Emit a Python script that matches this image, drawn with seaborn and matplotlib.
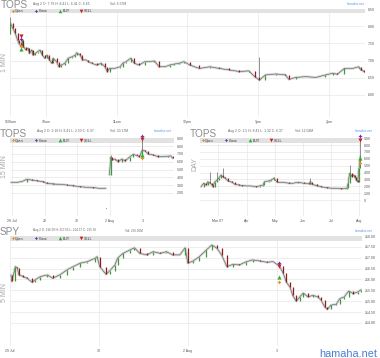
import numpy as np
import pandas as pd
import matplotlib
matplotlib.use("Agg")
import matplotlib.pyplot as plt
import seaborn as sns
from matplotlib.patches import Rectangle
from matplotlib.lines import Line2D

sns.set_theme(style="white")
plt.rcParams['font.family'] = ['Liberation Sans', 'DejaVu Sans']

# ---------------- data ----------------
# TOPS 1 MIN (minutes after 9:30am, close)
tops1_min = [0, 2, 4, 6, 7, 9, 10, 11, 13, 15, 16, 18, 19, 21, 23, 25, 27, 29, 31, 33,
             35, 36, 39, 41, 43, 46, 49, 52, 55, 56, 59, 61, 64, 66, 69, 73, 77, 80, 82, 84,
             88, 93, 95, 98, 102, 105, 109, 114, 118, 122, 126, 131, 135, 139, 143, 147, 152, 160, 169, 177,
             185, 194, 202, 207, 211, 216, 225, 233, 236, 242, 250, 259, 267, 273, 277, 283, 290, 295, 297, 300]
tops1_close = [8.09, 7.94, 7.80, 7.60, 7.51, 7.41, 7.60, 7.41, 7.31, 7.36, 7.21, 7.31, 7.16, 7.21, 7.26, 7.31, 7.16, 7.07, 7.16, 7.02,
               6.92, 7.07, 6.97, 6.82, 6.87, 6.92, 7.07, 7.11, 7.16, 7.23, 7.16, 7.02, 7.02, 6.97, 6.92, 6.87, 6.92, 6.82, 6.68, 6.77,
               6.77, 6.82, 6.92, 6.97, 7.07, 6.92, 6.87, 6.97, 6.97, 6.99, 6.82, 6.82, 6.87, 6.90, 6.92, 6.97, 6.87, 6.77, 6.82, 6.77,
               6.73, 6.68, 6.70, 6.53, 6.43, 6.58, 6.61, 6.58, 6.45, 6.51, 6.53, 6.51, 6.58, 6.63, 6.60, 6.77, 6.77, 6.82, 6.73, 6.68]
tops1_open = 7.79
tops1_wick_min = [0, 211]
tops1_wick_high = [8.28, 7.11]
tops1_trade_min = 9
tops1_trade = {'open': 7.43, 'close': 7.62, 'buy': 7.33, 'sell': 7.73}
tops1_xticks = [0, 30, 90, 150, 210, 270]
tops1_xlabels = ['9:30am', '10am', '11am', '12pm', '1pm', '2pm']
tops1_yticks = [6.0, 6.5, 7.0, 7.5, 8.0, 8.5]

# TOPS 15 MIN (days from 28 Jul), two sessions separated by a gap
tops15_d1 = [-0.03, 0.14, 0.30, 0.45, 0.60, 0.76, 0.96, 1.06, 1.27, 1.47, 1.68, 1.88, 2.09, 2.29, 2.49, 2.70, 2.88]
tops15_p1 = [3.36, 3.36, 3.44, 3.74, 3.65, 3.56, 3.44, 3.23, 3.14, 3.10, 3.01, 2.92, 2.79, 2.72, 2.67, 2.59, 2.59]
tops15_d2 = [2.99, 3.03, 3.06, 3.16, 3.26, 3.37, 3.47, 3.62, 3.72, 3.82, 3.91, 4.00, 4.08, 4.18, 4.33, 4.49, 4.64, 4.79, 4.87, 4.93]
tops15_p2 = [4.30, 6.60, 6.22, 6.35, 6.00, 6.35, 6.10, 6.64, 6.95, 6.80, 6.64, 7.50, 7.37, 7.00, 6.86, 6.64, 6.64, 6.70, 6.75, 6.44]
tops15_wick_day = [3.03, 4.00]
tops15_wick_high = [6.90, 9.20]
tops15_stray_d = [2.88]
tops15_stray_p = [0.06]
tops15_trade_day = 4.0
tops15_trade = {'open': 6.44, 'close': 9.29, 'buy': 6.86, 'sell': 8.91}
tops15_xticks = [0, 1, 2, 3, 4]
tops15_xlabels = ['28 Jul', '29', '30', '2 Aug', '3']
tops15_yticks = [2, 3, 4, 5, 6, 7, 8, 9]

# TOPS DAY (trading-day index, close)
day_idx = [0, 2, 4, 5, 7, 8, 9, 10, 12, 13, 15, 16, 18, 20, 23, 25, 28, 30, 34, 37,
           41, 44, 46, 47, 50, 52, 54, 56, 57, 61, 65, 68, 72, 76, 80, 81, 82, 86, 89, 93,
           97, 100, 104, 108, 109, 110, 112, 113, 114, 115, 116, 117, 118]
day_close = [1.94, 2.44, 2.19, 2.67, 2.44, 2.19, 1.94, 2.59, 2.92, 3.17, 3.65, 3.40, 3.17, 2.78, 2.59, 2.29, 2.19, 2.09, 2.05, 2.05,
             1.94, 2.09, 2.19, 2.67, 2.78, 2.92, 3.17, 2.67, 2.59, 2.59, 2.44, 2.44, 2.59, 2.44, 2.38, 2.67, 2.29, 2.09, 1.94, 1.80,
             1.71, 1.71, 1.65, 1.71, 2.44, 3.90, 3.40, 3.65, 3.40, 2.92, 2.67, 4.60, 6.37]
day_wick_idx = [7, 12, 16, 54, 81, 110, 118]
day_wick_high = [4.10, 4.10, 4.60, 3.40, 3.20, 5.10, 8.90]
day_trade_idx = 118
day_trade = {'open': 5.44, 'close': 9.33, 'buy': 6.08, 'sell': 8.75}
day_xticks = [12.6, 34.1, 54.8, 75.6, 96.3, 117.0]
day_xlabels = ['Mar 07', 'Apr', 'May', 'Jun', 'Jul', 'Aug']
day_yticks = [0, 1, 2, 3, 4, 5, 6, 7, 8, 9]

# SPY 5 MIN (days from 29 Jul, close)
spy_d = [0.01, 0.02, 0.06, 0.08, 0.10, 0.15, 0.19, 0.25, 0.28, 0.34, 0.42, 0.48, 0.56, 0.64, 0.71, 0.79, 0.87, 0.96, 0.98,
         1.01, 1.08, 1.12, 1.18, 1.21, 1.27, 1.35, 1.40, 1.46, 1.54, 1.61, 1.69, 1.76, 1.83, 1.91, 1.97,
         2.00, 2.06, 2.13, 2.21, 2.27, 2.33, 2.38, 2.44, 2.51, 2.58, 2.66, 2.73, 2.81, 2.89, 2.96,
         3.03, 3.07, 3.11, 3.15, 3.18, 3.22, 3.26, 3.30, 3.35, 3.41, 3.46, 3.50, 3.54, 3.57, 3.61, 3.67, 3.71, 3.76,
         3.81, 3.86, 3.91, 3.95]
spy_p = [216.21, 215.91, 216.59, 216.55, 216.21, 216.13, 216.06, 215.87, 215.98, 216.13, 216.21, 216.06, 216.21, 216.44,
         216.59, 216.75, 216.82, 216.98, 217.05,
         216.59, 216.24, 216.39, 216.67, 216.98, 217.20, 217.36, 217.46, 217.20, 217.13, 217.28, 217.20, 217.28, 217.13,
         217.13, 217.46,
         216.75, 216.85, 217.05, 217.36, 217.59, 217.43, 217.13, 216.59, 216.70, 216.67, 216.82, 216.90, 216.85, 216.79, 216.82,
         216.62, 216.32, 215.87, 215.65, 215.27, 215.00, 215.20, 215.38, 215.20, 215.27, 215.20, 215.05, 214.74, 214.62,
         214.82, 214.86, 215.12, 215.20, 215.47, 215.35, 215.42, 215.53]
spy_trade_day = 3.03
spy_trade = {'open': 215.90, 'close': 216.77, 'buy': 216.13, 'sell': 216.62}
spy_xticks = [0, 1, 2, 3]
spy_xlabels = ['29 Jul', '30', '2 Aug', '3']
spy_yticks = [214.0, 214.5, 215.0, 215.5, 216.0, 216.5, 217.0, 217.5, 218.0]

# ---------------- styling ----------------
W, H = 380, 358
GREEN = '#3d9b35'
RED = '#8e1c1c'
HALO = '#d4d4d4'
C_OPEN = '#f28a1e'
C_CLOSE = '#6a2fc0'
C_BUY = '#2fb12f'
C_SELL = '#cc2020'
STAR = (4, 1, 0)

fig = plt.figure(figsize=(W / 100, H / 100), dpi=100)
fig.patch.set_facecolor('white')


def fx(x):
    return x / W


def fy(y):
    return 1 - y / H


def ftext(x, y, s, **kw):
    kw.setdefault('va', 'center')
    fig.text(fx(x), fy(y), s, **kw)


def panel(l, t, r, b):
    ax = fig.add_axes([l / W, 1 - b / H, (r - l) / W, (b - t) / H])
    ax.set_facecolor('white')
    for s in ax.spines.values():
        s.set_visible(False)
    # legend bar
    h = 4.6 / (b - t)
    ax.add_patch(Rectangle((0, 1 - h), 1, h, transform=ax.transAxes,
                           facecolor='#e2e2e2', edgecolor='none', zorder=1))
    yc = t + 2.3
    items = [(2.7, 5.0, 'Open', STAR, C_OPEN), (26, 29, 'Close', STAR, C_CLOSE),
             (50, 53, 'BUY', '^', C_BUY), (71, 74, 'SELL', 'v', C_SELL)]
    for mx, tx, lab, mk, col in items:
        fig.add_artist(Line2D([fx(l + mx)], [fy(yc)], marker=mk, color=col, ms=2.6,
                              mew=0, transform=fig.transFigure, zorder=10))
        ftext(l + tx, yc + 0.6, lab, fontsize=2.5, color='#333333', ha='left', zorder=10)
    return ax


def style_axes(ax, xt, xl, yt, yl, xlim, ylim):
    ax.set_xlim(*xlim)
    ax.set_ylim(*ylim)
    ax.set_xticks(xt)
    ax.set_xticklabels(xl)
    ax.set_yticks(yt)
    ax.set_yticklabels(yl)
    ax.yaxis.tick_right()
    ax.tick_params(axis='both', length=0, labelsize=2.5, colors='#555555')
    ax.tick_params(axis='x', pad=2.2)
    ax.tick_params(axis='y', pad=2.0)
    ax.grid(True, color='#e8e8e8', lw=0.5)
    ax.set_axisbelow(True)
    ax.set_xlabel('')
    ax.set_ylabel('')


def candles(ax, x, c, first_open=None, wick_x=(), wick_high=()):
    x = np.asarray(x, float)
    c = np.asarray(c, float)
    df = pd.DataFrame({'x': x, 'c': c})
    sns.lineplot(data=df, x='x', y='c', ax=ax, color=HALO, lw=1.8, sort=False,
                 estimator=None, zorder=2)
    sns.lineplot(data=df, x='x', y='c', ax=ax, color='#3c3c3c', lw=0.3, sort=False,
                 estimator=None, zorder=3)
    o = np.r_[c[0] if first_open is None else first_open, c[:-1]]
    xl = list(x)
    for wx, hi in zip(wick_x, wick_high):
        i = xl.index(wx)
        ax.vlines(x[i], max(o[i], c[i]), hi, color='#555555', lw=0.45, zorder=3)
    up = c >= o
    ax.vlines(x[up], o[up], c[up], color=GREEN, lw=0.9, zorder=4)
    ax.vlines(x[~up], o[~up], c[~up], color=RED, lw=0.9, zorder=4)


def trades(ax, x, tr):
    spec = [('open', STAR, C_OPEN), ('close', STAR, C_CLOSE), ('buy', '^', C_BUY), ('sell', 'v', C_SELL)]
    for key, mk, col in spec:
        sns.scatterplot(x=[x], y=[tr[key]], ax=ax, marker=mk, color=col, s=9,
                        linewidth=0, zorder=8, legend=False, clip_on=False)


def headers(l, name, base_y, info, info_x, vol, vol_x, hx, ylab, ylab_x, ylab_y, info_y, info_fs=2.45):
    ftext(l, base_y, name, fontsize=7.2, color='#8c8c8c', ha='left', va='baseline')
    ftext(info_x, info_y, info, fontsize=info_fs, color='#666666', ha='left')
    ftext(vol_x, info_y, vol, fontsize=info_fs, color='#666666', ha='left')
    ftext(hx, info_y, 'hamaha.net', fontsize=2.4, color='#5b9be0', ha='right')
    ftext(ylab_x, ylab_y, ylab, fontsize=5, color='#a8a8a8', ha='center', rotation=90)


# ---- Panel 1: TOPS 1 MIN ----
ax1 = panel(10, 8.5, 365, 117)
candles(ax1, tops1_min, tops1_close, first_open=tops1_open,
        wick_x=tops1_wick_min, wick_high=tops1_wick_high)
trades(ax1, tops1_trade_min, tops1_trade)
style_axes(ax1, tops1_xticks, tops1_xlabels, tops1_yticks, [f'{v:.2f}' for v in tops1_yticks],
           (-0.42, 300.5), (5.351, 8.523))
headers(1, 'TOPS', 7.6, 'Aug 2 O: 7.79 H: 8.41 L: 6.41 C: 6.65', 33, 'Vol: 6.57M', 110, 365,
        '1 MIN', 4.5, 62, info_y=3.8)

# ---- Panel 2: TOPS 15 MIN ----
ax2 = panel(10, 138, 174, 216)
candles(ax2, tops15_d1, tops15_p1)
candles(ax2, tops15_d2, tops15_p2, wick_x=tops15_wick_day, wick_high=tops15_wick_high)
sns.scatterplot(x=tops15_stray_d, y=tops15_stray_p, ax=ax2, color='#999999', s=0.6,
                linewidth=0, legend=False, zorder=3)
trades(ax2, tops15_trade_day, tops15_trade)
style_axes(ax2, tops15_xticks, tops15_xlabels, tops15_yticks, [f'{v:.2f}' for v in tops15_yticks],
           (-0.06, 4.97), (-0.96, 9.04))
headers(0, 'TOPS', 137.1, 'Aug 2 O: 3.19 H: 8.41 L: 2.53 C: 6.37', 37, 'Vol: 30.17M', 110, 172,
        '15 MIN', 4.5, 167, info_y=131.5)

# ---- Panel 3: TOPS DAY ----
ax3 = panel(200, 138, 361, 216)
candles(ax3, day_idx, day_close, wick_x=day_wick_idx, wick_high=day_wick_high)
trades(ax3, day_trade_idx, day_trade)
style_axes(ax3, day_xticks, day_xlabels, day_yticks,
           ['0' if v == 0 else f'{v:.2f}' for v in day_yticks],
           (-0.74, 118.5), (-2.33, 9.04))
headers(190, 'TOPS', 137.1, 'Aug 2 O: 1.5 H: 8.41 L: 1.32 C: 6.37', 228, 'Vol: 12.08M', 295, 373,
        'DAY', 194.5, 164, info_y=131.5)

# ---- Panel 4: SPY 5 MIN ----
ax4 = panel(10, 236, 362, 346)
candles(ax4, spy_d, spy_p)
trades(ax4, spy_trade_day, spy_trade)
style_axes(ax4, spy_xticks, spy_xlabels, spy_yticks, [f'{v:.2f}' for v in spy_yticks],
           (0.0, 3.96), (212.94, 218.0))
headers(0, 'SPY', 235.2, 'Aug 2 O: 216.29 H: 217.65 L: 214.57 C: 215.56', 33, 'Vol: 256.05M', 125, 373,
        '5 MIN', 4.5, 293, info_y=230.5, info_fs=2.2)

# watermark
ftext(377, 357, 'hamaha.net', fontsize=7.8, color='#4b7fd1', ha='right', va='baseline')

fig.savefig('out.png', dpi=100, facecolor='white')
